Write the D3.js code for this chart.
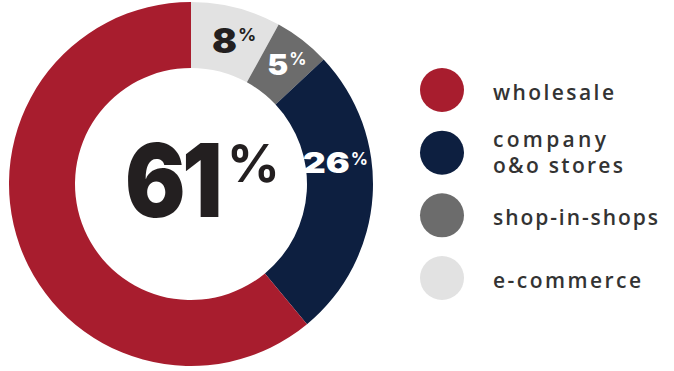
<!DOCTYPE html>
<html>
<head>
<meta charset="utf-8">
<script src="https://cdn.jsdelivr.net/npm/d3@7"></script>
<style>
  html, body { margin: 0; padding: 0; background: #fff; }
  svg { display: block; }
</style>
</head>
<body>
<svg id="chart" width="674" height="371"></svg>
<script>
// Channel mix, drawn clockwise from 12 o'clock
const channels = ["e-commerce", "shop-in-shops", "company o&o stores", "wholesale"];
const shares = [8, 5, 26, 61];
const sliceColors = ["#e2e2e2", "#6c6c6c", "#0d1f40", "#a81d2e"];
const labelColors = ["#231f20", "#ffffff", "#ffffff", "#231f20"];

// Legend order and wrapped lines
const legendKeys = ["wholesale", "company o&o stores", "shop-in-shops", "e-commerce"];
const legendLines = [["wholesale"], ["company", "o&o stores"], ["shop-in-shops"], ["e-commerce"]];
const legendWidths = [[121], [113, 130], [165], [148]];

const svg = d3.select("#chart");
const cx = 191, cy = 184, outerR = 182, innerR = 116;

const color = d3.scaleOrdinal().domain(channels).range(sliceColors);
const labelColor = d3.scaleOrdinal().domain(channels).range(labelColors);

const pie = d3.pie().sort(null).value(d => d.v);
const arcs = pie(channels.map((c, i) => ({ c, v: shares[i] })));
const arc = d3.arc().innerRadius(innerR).outerRadius(outerR);

const g = svg.append("g").attr("transform", `translate(${cx},${cy})`);
g.selectAll("path.slice")
  .data(arcs)
  .join("path")
  .attr("class", "slice")
  .attr("d", arc)
  .attr("fill", d => color(d.data.c));

const numFont = "Inter, 'Noto Sans', sans-serif";

// Digits stretched to a set width, ending at x, followed by a raised "%"
function percentLabel(parent, x, y, value, opts) {
  const num = parent.append("text")
    .attr("font-family", numFont)
    .attr("font-weight", 900)
    .attr("font-size", opts.size)
    .attr("letter-spacing", opts.tracking || 0)
    .attr("fill", opts.fill)
    .text(value);
  const w = num.node().getComputedTextLength();
  const k = opts.width / w;
  num.attr("transform", `translate(${x - opts.width},${y}) scale(${k},1)`);
  parent.append("text")
    .attr("x", x + opts.gap)
    .attr("y", y - opts.raise)
    .attr("font-family", numFont)
    .attr("font-weight", 700)
    .attr("font-size", opts.pctSize)
    .attr("fill", opts.fill)
    .text("%");
}

// Slice labels, positioned relative to each ring centroid
const labelStyle = {
  "e-commerce":         { dx: 9,  dy: 13,  size: 34, width: 25, pctSize: 18, gap: 1, raise: 12 },
  "shop-in-shops":      { dx: 6,  dy: 9,   size: 29, width: 21, pctSize: 17, gap: 1, raise: 10 },
  "company o&o stores": { dx: 10, dy: -20, size: 29, width: 47, pctSize: 17, gap: 1, raise: 8 }
};
arcs.filter(d => d.data.c !== "wholesale").forEach(d => {
  const [x, y] = arc.centroid(d);
  const s = labelStyle[d.data.c];
  percentLabel(g, x + s.dx, y + s.dy, d.data.v, {
    size: s.size, width: s.width, pctSize: s.pctSize, gap: s.gap, raise: s.raise,
    fill: labelColor(d.data.c)
  });
});

// Headline share in the centre
const main = arcs.find(d => d.data.c === "wholesale");
percentLabel(g, 28, 33, main.data.v, {
  size: 101, width: 94, tracking: -4, pctSize: 52, gap: 8, raise: 35, fill: "#231f20"
});

// Legend: swatches plus tracked labels (one text per entry, wrapped lines as tspans)
const legendY = d3.scalePoint().domain(legendKeys).range([90, 278]);
const lg = svg.append("g");
legendKeys.forEach((k, i) => {
  const y = legendY(k);
  lg.append("circle")
    .attr("cx", 442)
    .attr("cy", y)
    .attr("r", 22)
    .attr("fill", color(k));
  const lines = legendLines[i];
  const base = lines.length === 1 ? y + 10 : y - 6;
  const text = lg.append("text")
    .attr("font-family", "'Open Sans', 'Noto Sans', sans-serif")
    .attr("font-weight", 600)
    .attr("font-size", 21)
    .attr("fill", "#333333");
  lines.forEach((line, j) => {
    const ts = text.append("tspan")
      .attr("x", 493)
      .attr("y", base + j * 26)
      .text(line);
    const natural = ts.node().getComputedTextLength();
    const track = (legendWidths[i][j] - natural) / (line.length - 1);
    ts.attr("letter-spacing", track);
  });
});
</script>
</body>
</html>
